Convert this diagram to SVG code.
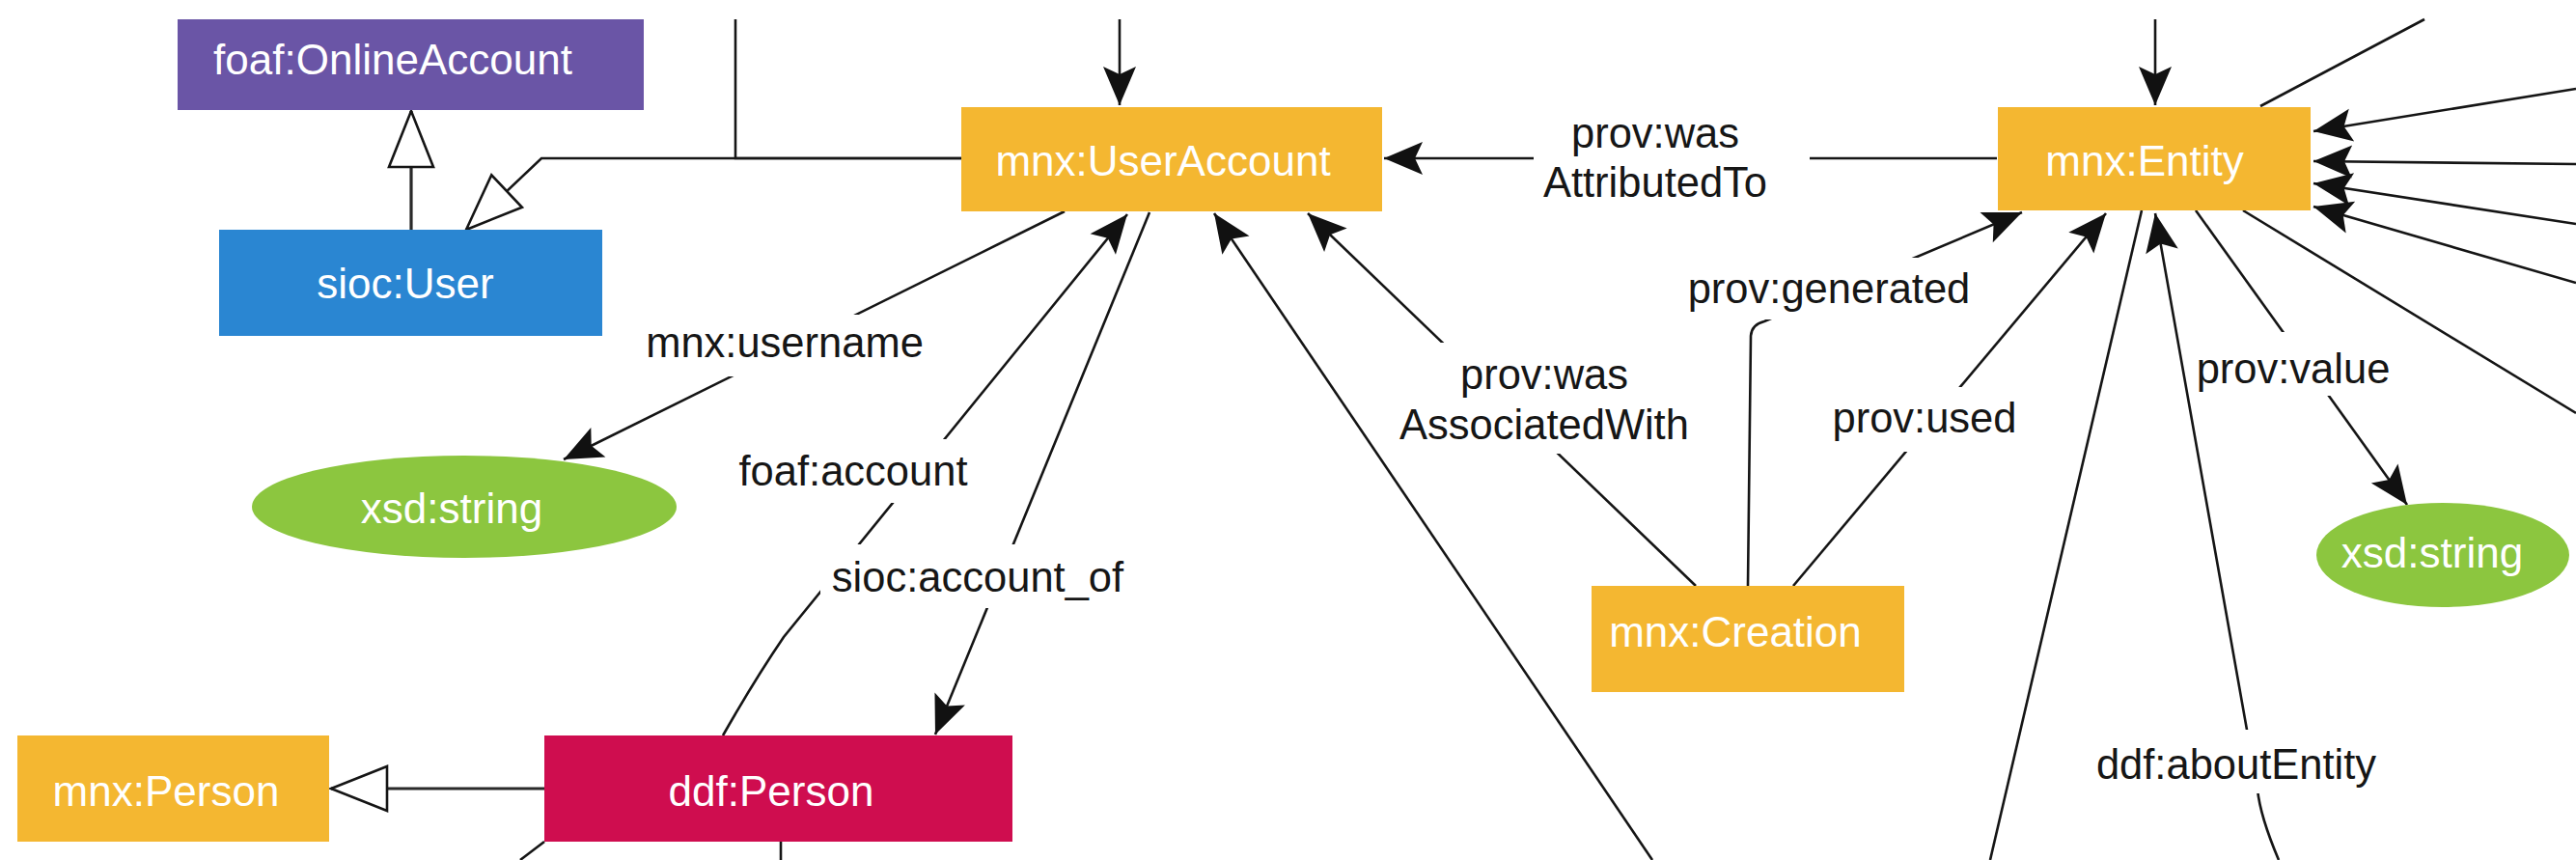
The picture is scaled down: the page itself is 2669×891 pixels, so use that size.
<svg xmlns="http://www.w3.org/2000/svg" width="2669" height="891" viewBox="0 0 2669 891">
<style>
  .edge{fill:none;stroke:#151515;stroke-width:2.6}
  .sub{fill:none;stroke:#2a2a2a;stroke-width:3.2}
  .nt{font-family:"Liberation Sans",Arial,Helvetica,sans-serif;font-size:44px;fill:#ffffff;text-anchor:middle}
  .lt{font-family:"Liberation Sans",Arial,Helvetica,sans-serif;font-size:43.5px;fill:#161616;text-anchor:middle}
  .lbg{fill:#ffffff}
</style>
<defs>
  <marker id="arr" markerUnits="userSpaceOnUse" markerWidth="44" markerHeight="36" viewBox="0 0 44 36" refX="42" refY="18" orient="auto">
    <path d="M2,1 L42,18 L2,35 L10,18 Z" fill="#111"/>
  </marker>
  <marker id="tri" markerUnits="userSpaceOnUse" markerWidth="66" markerHeight="54" viewBox="0 0 66 54" refX="62" refY="27" orient="auto">
    <path d="M4,4 L62,27 L4,50 Z" fill="#ffffff" stroke="#151515" stroke-width="2.6"/>
  </marker>
</defs>
<rect width="2669" height="891" fill="#ffffff"/>

<g id="connectors">
  <path class="edge" d="M762,20 V164 H996"/>
  <path class="edge" d="M996,164 H561 L483,238" marker-end="url(#tri)"/>
  <path class="sub" d="M426,238 V115" marker-end="url(#tri)"/>
  <path class="sub" d="M564,817 H343" marker-end="url(#tri)"/>
  <path class="edge" d="M1160,20 V109" marker-end="url(#arr)"/>
  <path class="edge" d="M2233,20 V109" marker-end="url(#arr)"/>
  <path class="edge" d="M2069,164 H1434" marker-end="url(#arr)"/>
  <path class="edge" d="M1103,219 L584,476" marker-end="url(#arr)"/>
  <path class="edge" d="M749,762 Q782,704 812,660 L1168,222" marker-end="url(#arr)"/>
  <path class="edge" d="M1191,220 L969,761" marker-end="url(#arr)"/>
  <path class="edge" d="M1712,891 L1258,221" marker-end="url(#arr)"/>
  <path class="edge" d="M1757,607 L1355,221" marker-end="url(#arr)"/>
  <path class="edge" d="M1811,607 L1814,348 Q1815,336 1828,333 L2095,220" marker-end="url(#arr)"/>
  <path class="edge" d="M1858,607 L2182,221" marker-end="url(#arr)"/>
  <path class="edge" d="M2219,218 L2062,891"/>
  <path class="edge" d="M2361,891 C2347,858 2341,838 2339,818 L2233,221" marker-end="url(#arr)"/>
  <path class="edge" d="M2275,218 L2494,523" marker-end="url(#arr)"/>
  <path class="edge" d="M2324,218 L2669,428"/>
  <path class="edge" d="M2512,20 L2342,110"/>
  <path class="edge" d="M2669,92 L2397,136" marker-end="url(#arr)"/>
  <path class="edge" d="M2669,170 L2397,167" marker-end="url(#arr)"/>
  <path class="edge" d="M2669,232 L2397,190" marker-end="url(#arr)"/>
  <path class="edge" d="M2669,293 L2397,214" marker-end="url(#arr)"/>
  <path class="edge" d="M564,872 L539,891"/>
  <path class="edge" d="M809,872 V891"/>

  <g id="lbl-username"><rect class="lbg" x="665" y="326" width="300" height="64"/><text class="lt" x="813" y="370">mnx:username</text></g>
  <g id="lbl-account"><rect class="lbg" x="758" y="455" width="252" height="66"/><text class="lt" x="884" y="503">foaf:account</text></g>
  <g id="lbl-accountof"><rect class="lbg" x="850" y="564" width="327" height="66"/><text class="lt" x="1013" y="613">sioc:account_of</text></g>
  <g id="lbl-attributed"><rect class="lbg" x="1589" y="113" width="286" height="100"/><text class="lt" x="1715" y="153">prov:was</text><text class="lt" x="1715" y="204">AttributedTo</text></g>
  <g id="lbl-associated"><rect class="lbg" x="1440" y="355" width="312" height="115"/><text class="lt" x="1600" y="403">prov:was</text><text class="lt" x="1600" y="455">AssociatedWith</text></g>
  <g id="lbl-generated"><rect class="lbg" x="1745" y="267" width="302" height="64"/><text class="lt" x="1895" y="314">prov:generated</text></g>
  <g id="lbl-used"><rect class="lbg" x="1895" y="401" width="198" height="67"/><text class="lt" x="1994" y="448">prov:used</text></g>
  <g id="lbl-value"><rect class="lbg" x="2272" y="344" width="209" height="66"/><text class="lt" x="2376" y="397">prov:value</text></g>
  <g id="lbl-about"><rect class="lbg" x="2168" y="756" width="298" height="66"/><text class="lt" x="2317" y="807">ddf:aboutEntity</text></g>
</g>

<g id="foaf-OnlineAccount"><rect x="184" y="20" width="483" height="94" fill="#6a55a6"/><text class="nt" x="407" y="77">foaf:OnlineAccount</text></g>
<g id="sioc-User"><rect x="227" y="238" width="397" height="110" fill="#2a86d2"/><text class="nt" x="420" y="309">sioc:User</text></g>
<g id="mnx-UserAccount"><rect x="996" y="111" width="436" height="108" fill="#f4b731"/><text class="nt" x="1205" y="182">mnx:UserAccount</text></g>
<g id="mnx-Entity"><rect x="2070" y="111" width="324" height="107" fill="#f4b731"/><text class="nt" x="2222" y="182">mnx:Entity</text></g>
<g id="xsd-string-1"><ellipse cx="481" cy="525" rx="220" ry="53" fill="#8cc63f"/><text class="nt" x="468" y="542">xsd:string</text></g>
<g id="mnx-Person"><rect x="18" y="762" width="323" height="110" fill="#f4b731"/><text class="nt" x="172" y="835">mnx:Person</text></g>
<g id="ddf-Person"><rect x="564" y="762" width="485" height="110" fill="#cf0d4f"/><text class="nt" x="799" y="835">ddf:Person</text></g>
<g id="mnx-Creation"><rect x="1649" y="607" width="324" height="110" fill="#f4b731"/><text class="nt" x="1798" y="670">mnx:Creation</text></g>
<g id="xsd-string-2"><ellipse cx="2531" cy="575" rx="131" ry="54" fill="#8cc63f"/><text class="nt" x="2520" y="588">xsd:string</text></g>
</svg>
